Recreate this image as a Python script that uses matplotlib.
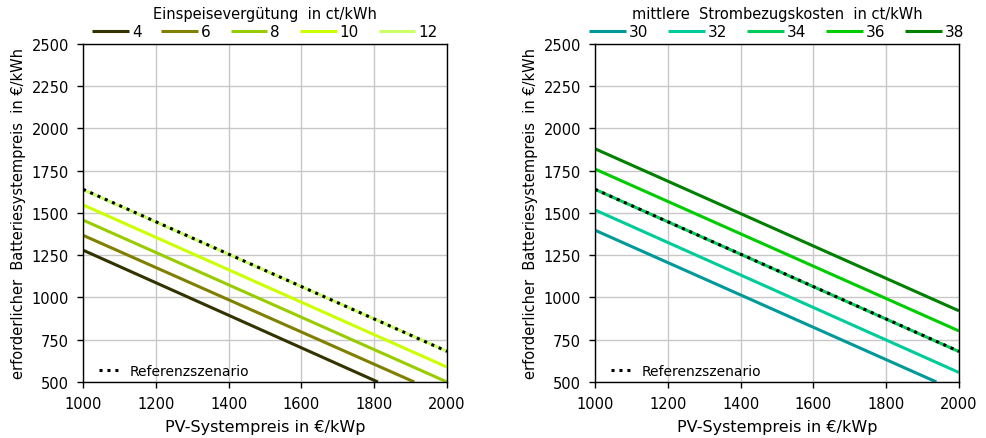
import matplotlib.pyplot as plt

plt.rcParams['font.family'] = ['DejaVu Sans']
plt.rcParams['font.size'] = 10.5

# left chart: Einspeiseverguetung (ct/kWh)
feedLabels = ['4', '6', '8', '10', '12']
feedX = [[1000, 1810], [1000, 1910], [1000, 2000], [1000, 2000], [1000, 2000]]
feedY = [[1280, 500], [1368, 500], [1458, 500], [1548, 588], [1638, 682]]
feedColors = ['#333300', '#808000', '#99cc00', '#ccff00', '#ccff66']

# right chart: mittlere Strombezugskosten (ct/kWh)
costLabels = ['30', '32', '34', '36', '38']
costX = [[1000, 1938], [1000, 2000], [1000, 2000], [1000, 2000], [1000, 2000]]
costY = [[1398, 500], [1518, 556], [1640, 680], [1760, 802], [1880, 921]]
costColors = ['#009999', '#00cc99', '#00cc55', '#00cc00', '#008000']

# Referenzszenario = 12 ct (left) / 34 ct (right)
refX = [1000, 2000]
refY = [1640, 681]

xTicks = [1000, 1200, 1400, 1600, 1800, 2000]
yTicks = [500, 750, 1000, 1250, 1500, 1750, 2000, 2250, 2500]

fig = plt.figure(figsize=(9.87, 4.39), dpi=100)
axL = fig.add_axes([0.0841, 0.1276, 0.3688, 0.770])
axR = fig.add_axes([0.6028, 0.1276, 0.3688, 0.770])


def drawPanel(ax, xs, ys, labels, colors, title, ylabel):
    handles = []
    for x, y, lab, col in zip(xs, ys, labels, colors):
        h, = ax.plot(x, y, color=col, lw=2.2, label=lab, solid_capstyle='butt')
        handles.append(h)
    ref, = ax.plot(refX, refY, color='black', lw=2.2, ls=(0, (1, 1.6)),
                   label='Referenzszenario')
    ax.set_xlim(1000, 2000)
    ax.set_ylim(500, 2500)
    ax.set_xticks(xTicks)
    ax.set_yticks(yTicks)
    ax.grid(True, color='#c8c8c8', lw=1)
    ax.set_axisbelow(True)
    for s in ax.spines.values():
        s.set_color('black')
        s.set_linewidth(1)
    ax.tick_params(direction='out', length=4, width=1, pad=6)
    ax.set_xlabel('PV-Systempreis in €/kWp', labelpad=6, fontsize=11.5)
    ax.set_ylabel(ylabel, labelpad=4)
    leg = ax.legend(handles=handles, title=title, ncol=5, frameon=False,
                    loc='lower center', bbox_to_anchor=(0.5, 1.015),
                    handlelength=2.4, handletextpad=0.2, columnspacing=1.3,
                    borderaxespad=0, borderpad=0, labelspacing=0.2,
                    title_fontsize=10.5, fontsize=11)
    leg._legend_box.sep = 2
    ax.add_artist(leg)
    ax.legend(handles=[ref], loc='lower left', frameon=False, fontsize=10,
              handlelength=1.6, handletextpad=0.6,
              bbox_to_anchor=(0.01, -0.025))


drawPanel(axL, feedX, feedY, feedLabels, feedColors,
          'Einspeisevergütung  in ct/kWh',
          'erforderlicher  Batteriesystempreis  in €/kWh')
drawPanel(axR, costX, costY, costLabels, costColors,
          'mittlere  Strombezugskosten  in ct/kWh',
          'erforderlicher  Batteriesystempreis  in €/kWh')

fig.savefig('out.png', dpi=100)
